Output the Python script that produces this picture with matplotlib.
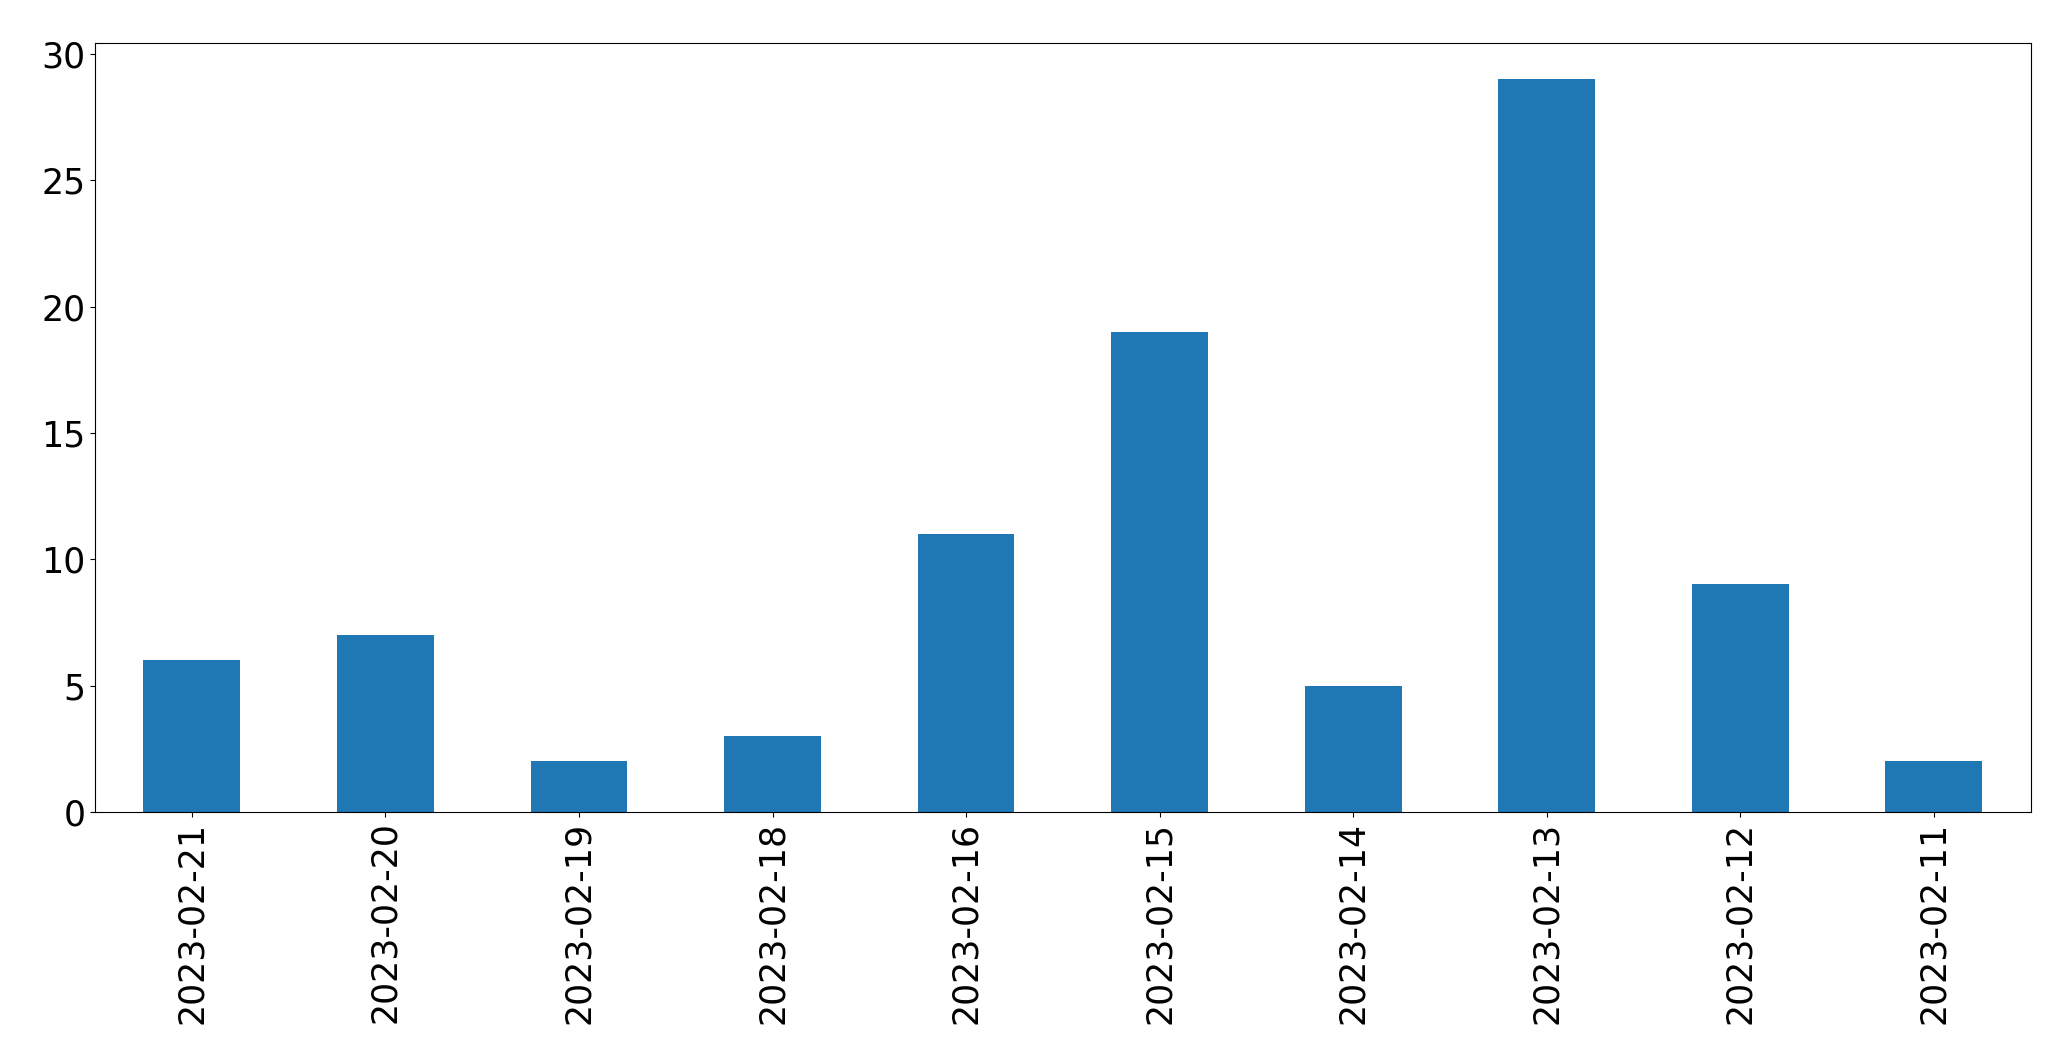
import pandas as pd
import matplotlib.pyplot as plt

# Daily counts (newest first, as in the source chart)
dates = ['2023-02-21', '2023-02-20', '2023-02-19', '2023-02-18', '2023-02-16',
         '2023-02-15', '2023-02-14', '2023-02-13', '2023-02-12', '2023-02-11']
counts = [6, 7, 2, 3, 11, 19, 5, 29, 9, 2]

plt.rcParams['font.size'] = 25

series = pd.Series(counts, index=dates)

fig, ax = plt.subplots(figsize=(20.71, 10.64), dpi=100)
series.plot(kind='bar', ax=ax, color='#1f77b4')
ax.set_xlabel('')
fig.subplots_adjust(left=0.0459, right=0.9805, top=0.960, bottom=0.237)
plt.savefig('out.png')
